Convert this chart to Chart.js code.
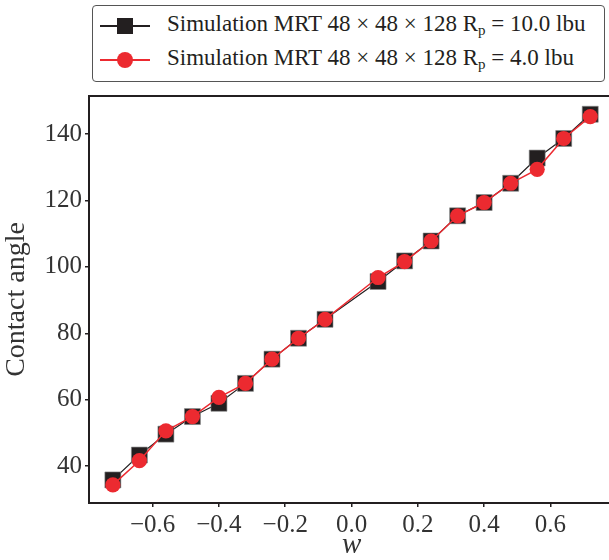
<!DOCTYPE html>
<html lang="en">
<head>
    <meta charset="UTF-8">
    <title>Contact angle vs w</title>
    <script src="https://cdn.jsdelivr.net/npm/chart.js"></script>
    <style>
        html, body { margin: 0; padding: 0; overflow: hidden; background: #fff; }
        body { width: 609px; height: 560px; position: relative; }
        #wrap { position: absolute; left: 0; top: 0; width: 626px; height: 560px; }
        .legend { position: absolute; left: 92px; top: 5px; width: 511px; height: 75px;
                  border: 1px solid #555; border-radius: 4px; background: #fff;
                  font-family: "Liberation Serif", serif; font-size: 23px; color: #231f20; }
        .row { position: absolute; left: 0; height: 30px; width: 100%; }
        .sample { position: absolute; left: 7px; top: 14px; width: 50px; height: 2px; }
        .mk { position: absolute; }
        .lbl { position: absolute; left: 74px; top: 0px; white-space: nowrap; }
        sub { font-size: 15px; vertical-align: -4px; line-height: 0; }
    </style>
</head>
<body>
<div id="wrap"><canvas id="chartAngle" width="626" height="560"></canvas></div>

<div class="legend">
    <div class="row" style="top:5px;">
        <div class="sample" style="background:#231f20; height:1.5px;"></div>
        <div class="mk" style="left:24px; top:7px; width:16px; height:16px; background:#231f20;"></div>
        <div class="lbl" id="lab0"></div>
    </div>
    <div class="row" style="top:39px;">
        <div class="sample" style="background:#ec2a30; height:2px;"></div>
        <div class="mk" style="left:24px; top:7px; width:16px; height:16px; border-radius:50%; background:#ec2a30;"></div>
        <div class="lbl" id="lab1"></div>
    </div>
</div>

<script>
// data
const wValues = [-0.72, -0.64, -0.56, -0.48, -0.40, -0.32, -0.24, -0.16, -0.08,
                 0.08, 0.16, 0.24, 0.32, 0.40, 0.48, 0.56, 0.64, 0.72];
const angleRp10 = [35.8, 43.3, 49.6, 54.9, 58.9, 64.9, 72.2, 78.5, 84.2,
                   95.6, 101.8, 107.8, 115.4, 119.4, 125.2, 132.8, 138.7, 146.0];
const angleRp4 = [34.3, 41.6, 50.6, 54.9, 60.7, 64.9, 72.2, 78.5, 84.2,
                  96.8, 101.6, 107.8, 115.4, 119.4, 125.2, 129.4, 138.7, 145.3];
const seriesNames = ['Simulation MRT 48 × 48 × 128 R<sub>p</sub> = 10.0 lbu',
                     'Simulation MRT 48 × 48 × 128 R<sub>p</sub> = 4.0 lbu'];
const xTicks = [-0.6, -0.4, -0.2, 0.0, 0.2, 0.4, 0.6];
const yTicks = [40, 60, 80, 100, 120, 140];

document.getElementById('lab0').innerHTML = seriesNames[0];
document.getElementById('lab1').innerHTML = seriesNames[1];

const toPts = ys => wValues.map((x, i) => ({ x: x, y: ys[i] }));
const ink = '#231f20';
const serif = '"Liberation Serif", serif';

// frame round the plot area (matplotlib style spines)
const frame = {
    id: 'frame',
    afterDraw(chart) {
        const a = chart.chartArea, ctx = chart.ctx;
        ctx.save();
        ctx.strokeStyle = ink;
        ctx.lineWidth = 2;
        ctx.strokeRect(a.left, a.top, a.right - a.left, a.bottom - a.top);
        ctx.restore();
    }
};

new Chart(document.getElementById('chartAngle'), {
    type: 'line',
    data: {
        datasets: [
            { label: 'Rp10', data: toPts(angleRp10), borderColor: ink, backgroundColor: ink, order: 2,
              borderWidth: 1.2, pointStyle: 'rect', pointRadius: 11.3, pointBorderWidth: 0.6,
              pointBorderColor: '#888', pointBackgroundColor: ink },
            { label: 'Rp4', data: toPts(angleRp4), borderColor: '#ec2a30', backgroundColor: '#ec2a30', order: 1,
              borderWidth: 1.5, pointStyle: 'circle', pointRadius: 7.6, pointBorderWidth: 0,
              pointBackgroundColor: '#ec2a30' }
        ]
    },
    options: {
        responsive: false,
        animation: false,
        layout: { padding: { top: 96, right: 2, left: 0, bottom: 0 } },
        plugins: { legend: { display: false }, tooltip: { enabled: false } },
        scales: {
            x: {
                type: 'linear', min: -0.792, max: 0.792,
                afterFit: s => { s.height = 57; s.paddingLeft = 0; s.paddingRight = 0; },
                afterBuildTicks: s => { s.ticks = xTicks.map(v => ({ value: v })); },
                border: { display: false },
                grid: { drawOnChartArea: false, drawTicks: true, tickLength: 4, color: ink, lineWidth: 1.5 },
                ticks: { color: '#333', font: { family: serif, size: 25 }, padding: 3,
                         callback: v => (v < 0 ? '\u2212' : '') + Math.abs(v).toFixed(1) },
                title: { display: true, text: 'w', color: '#333',
                         font: { family: serif, size: 29, style: 'italic', lineHeight: 1 }, padding: 0 }
            },
            y: {
                type: 'linear', min: 28.85, max: 151.5,
                afterFit: s => { s.width = 89; s.paddingTop = 0; s.paddingBottom = 0; },
                afterBuildTicks: s => { s.ticks = yTicks.map(v => ({ value: v })); },
                border: { display: false },
                grid: { drawOnChartArea: false, drawTicks: true, tickLength: 4, color: ink, lineWidth: 1.5 },
                ticks: { color: '#333', font: { family: serif, size: 25 }, padding: 3 },
                title: { display: true, text: 'Contact angle', color: '#333',
                         font: { family: serif, size: 28, lineHeight: 1 }, padding: { top: 3, bottom: 0 } }
            }
        }
    },
    plugins: [frame]
});
</script>
</body>
</html>
